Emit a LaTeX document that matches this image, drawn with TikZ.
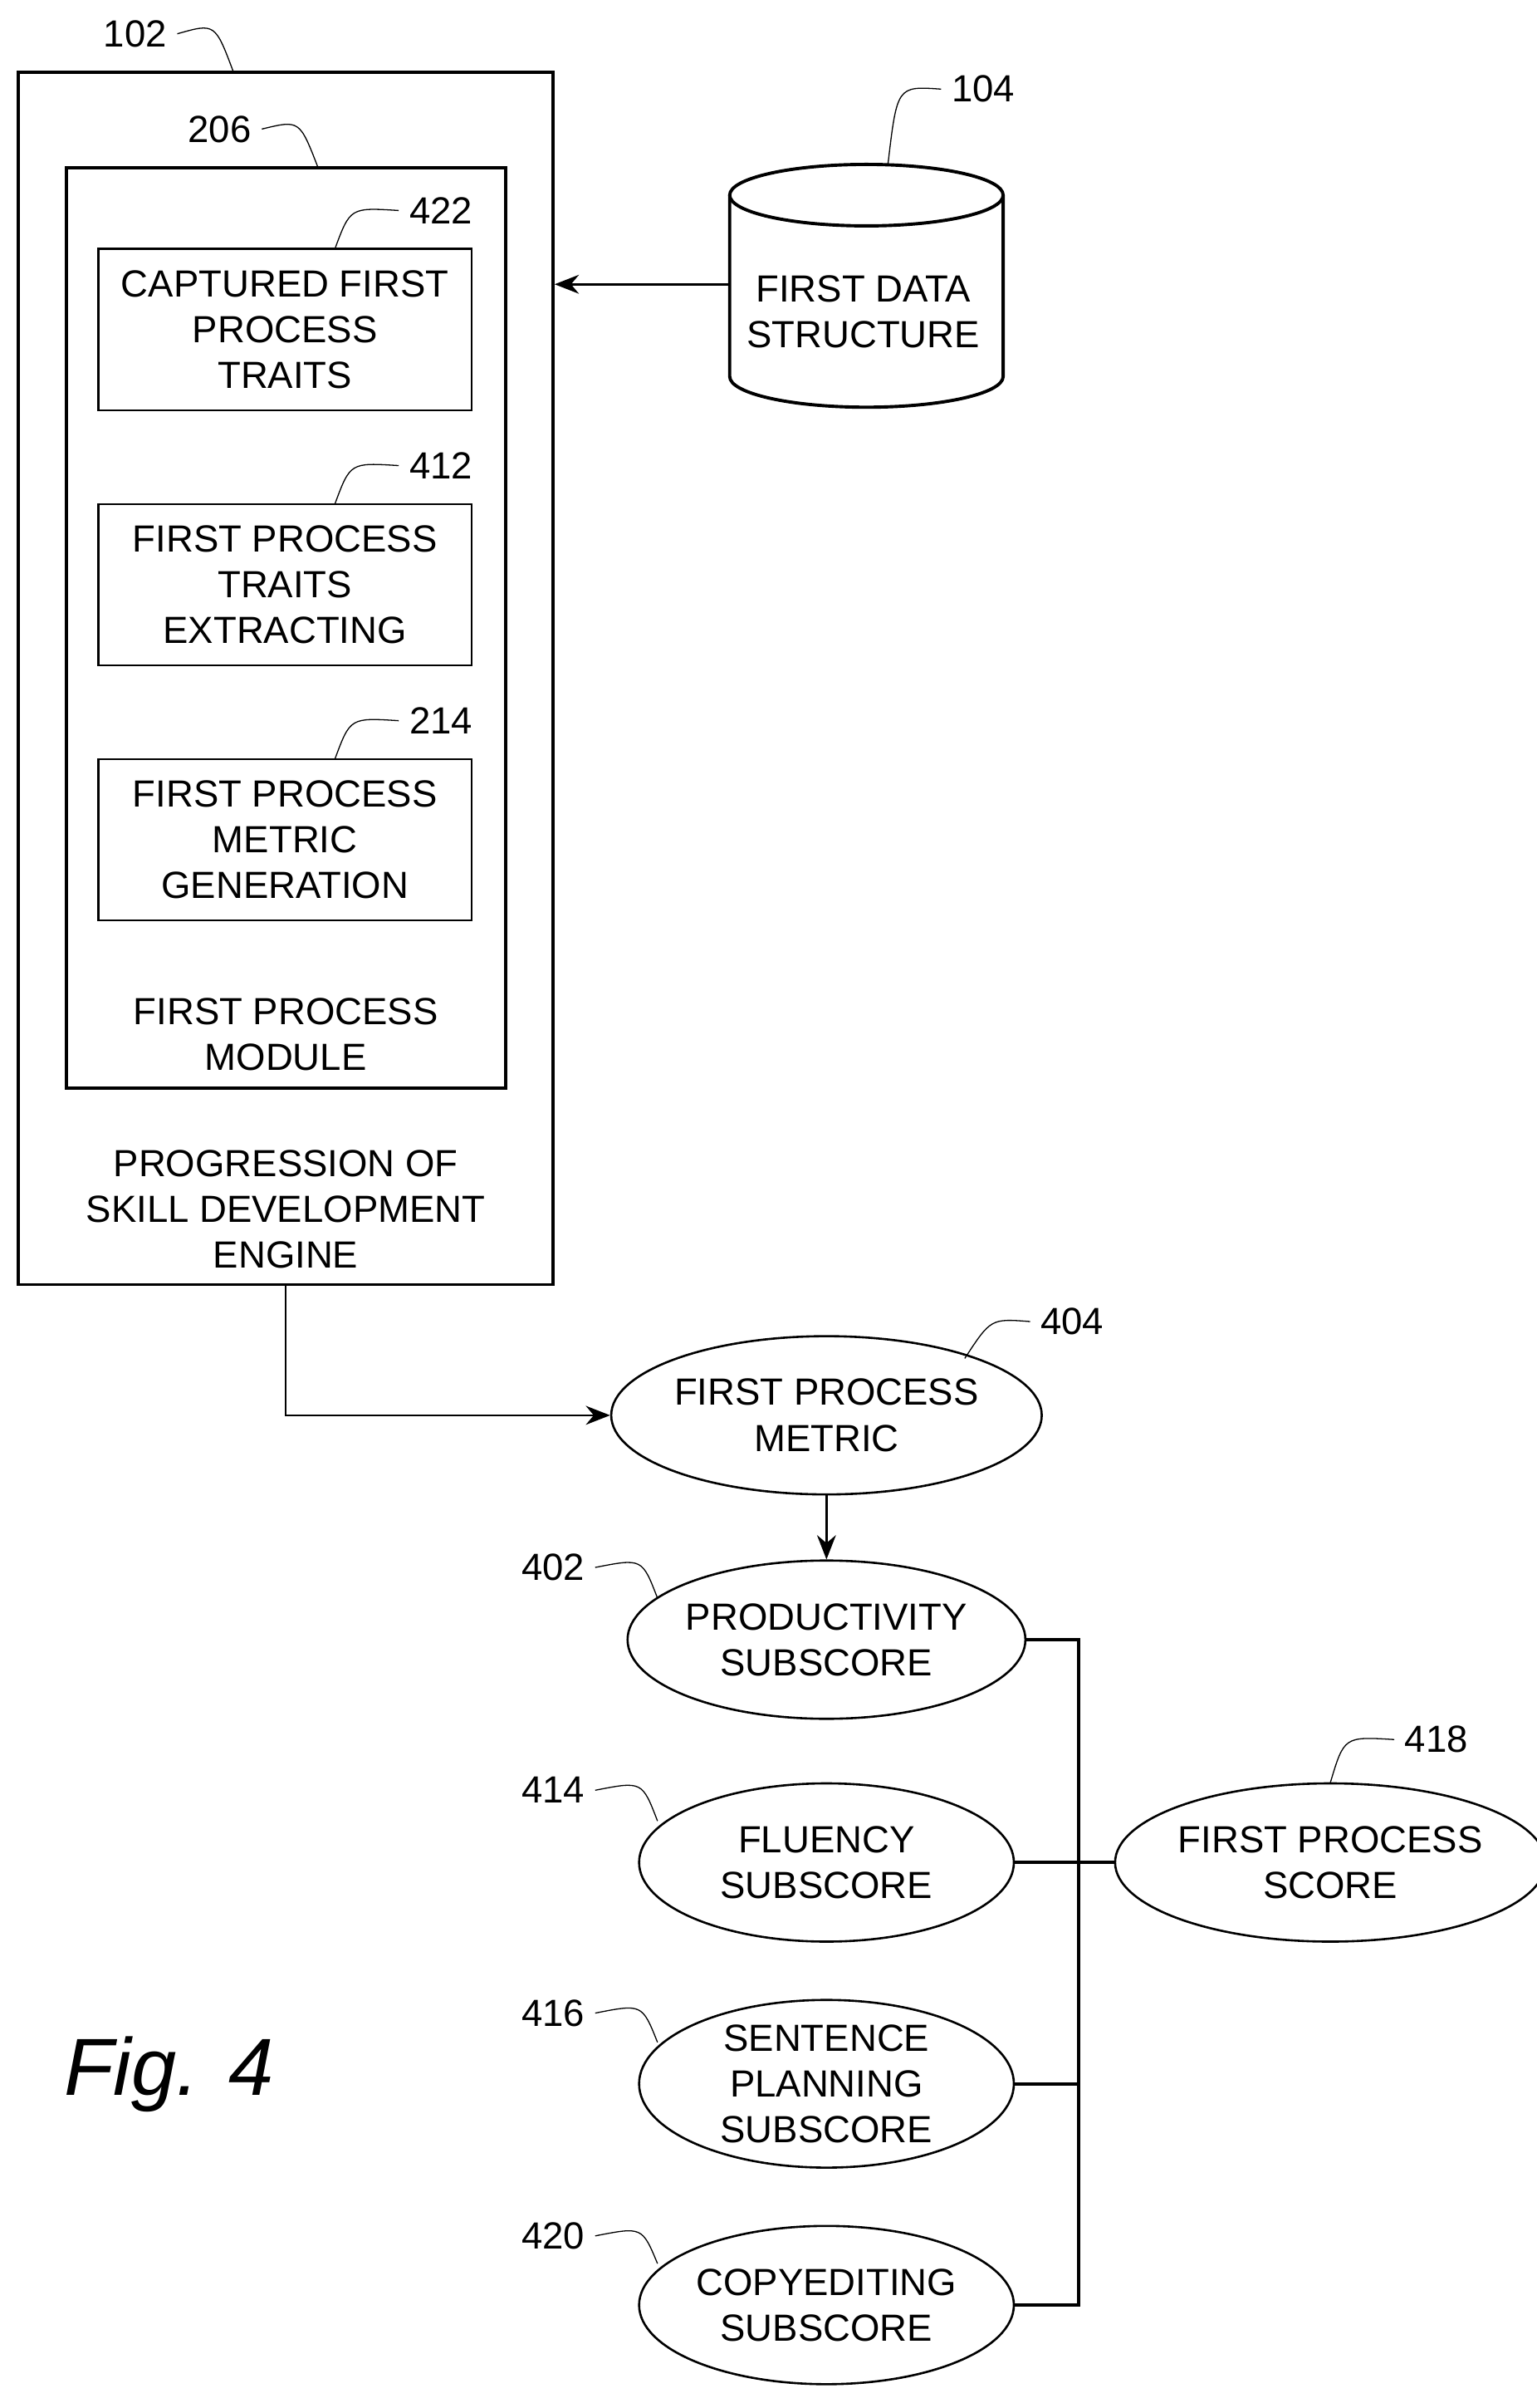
\documentclass[tikz,border=0pt]{standalone}
\usepackage{fontspec}
\setmainfont{Liberation Sans}
\usetikzlibrary{shapes.geometric,arrows.meta}
\tikzset{
	box/.style = {draw, thick, minimum width = 4.86cm, minimum height = 2.1cm, align = center, inner sep = 0pt},
	oval/.style = {draw, thick, ellipse, minimum width = 4.88cm, minimum height = 2.06cm, align = center, inner sep = 0pt},
	lbl/.style = {font = \fontsize{14}{17}\selectfont},
	lead/.style = {thin},
	arr/.style = {thick, -{Stealth[length=9pt, width=7pt]}}
}
\begin{document}
\begin{tikzpicture}[x = 0.02cm, y = -0.02cm, font = \fontsize{14}{17}\selectfont, line width = 1.2pt]
	\useasboundingbox (0, 0) rectangle (1000, 1567);
	% engine and module frames
	\node[draw, minimum width = 6.96cm, minimum height = 15.78cm, inner sep = 0pt] (engine) at (186, 441.5) {};
	\node[draw, minimum width = 5.72cm, minimum height = 11.98cm, inner sep = 0pt] (module) at (186, 408.5) {};
	\node[box] (captured) at (185.5, 214.5) {CAPTURED FIRST\\PROCESS\\TRAITS};
	\node[box] (extract) at (185.5, 380.5) {FIRST PROCESS\\TRAITS\\EXTRACTING};
	\node[box] (metricgen) at (185.5, 546.5) {FIRST PROCESS\\METRIC\\GENERATION};
	\node[align = center] (modtext) at (186, 673) {FIRST PROCESS\\MODULE};
	\node[align = center] (engtext) at (186, 787) {PROGRESSION OF\\SKILL DEVELOPMENT\\ENGINE};
	% data structure
	\draw (475, 127) -- (475, 245) arc[start angle = 180, end angle = 0, x radius = 89, y radius = 20] -- (653, 127);
	\draw (564, 127) ellipse[x radius = 89, y radius = 20];
	\node[align = center] (data) at (562, 203) {FIRST DATA\\STRUCTURE};
	\coordinate (dataL) at (475, 185);
	\draw[arr] (dataL) -- (engine.east |- dataL);
	% scores
	\node[oval] (metric) at (538, 921) {FIRST PROCESS\\METRIC};
	\node[oval] (prod) at (538, 1067) {PRODUCTIVITY\\SUBSCORE};
	\node[oval] (flu) at (538, 1212) {FLUENCY\\SUBSCORE};
	\node[oval] (sent) at (538, 1356) {SENTENCE\\PLANNING\\SUBSCORE};
	\node[oval] (copy) at (538, 1500) {COPYEDITING\\SUBSCORE};
	\node[oval] (score) at (866, 1212) {FIRST PROCESS\\SCORE};
	\draw[arr] (engine.south) |- (metric.west);
	\draw[arr] (metric.south) -- (prod.north);
	\coordinate (bus) at (702, 1067);
	\draw (prod.east) -- (bus) -- (bus |- copy.east) -- (copy.east);
	\draw (flu.east) -- (score.west);
	\draw (sent.east) -- (bus |- sent.east);
	% reference numerals
	\node[lbl] (n102) at (88, 22) {102};
	\draw[lead] (n102.east) .. controls (140, 15) .. (152, 47);
	\node[lbl] (n206) at (143, 84) {206};
	\draw[lead] (n206.east) .. controls (195, 78) .. (207, 109);
	\node[lbl] (n422) at (287, 137) {422};
	\draw[lead] (n422.west) .. controls (228, 135) .. (218, 162);
	\node[lbl] (n412) at (287, 303) {412};
	\draw[lead] (n412.west) .. controls (228, 301) .. (218, 328);
	\node[lbl] (n214) at (287, 469) {214};
	\draw[lead] (n214.west) .. controls (228, 467) .. (218, 494);
	\node[lbl] (n104) at (640, 58) {104};
	\draw[lead] (n104.west) .. controls (584, 56) .. (578, 107);
	\node[lbl] (n404) at (698, 860) {404};
	\draw[lead] (n404.west) .. controls (645, 858) .. (628, 884);
	\node[lbl] (n402) at (360, 1020) {402};
	\draw[lead] (n402.east) .. controls (418, 1014) .. (428, 1040);
	\node[lbl] (n414) at (360, 1165) {414};
	\draw[lead] (n414.east) .. controls (418, 1159) .. (428, 1185);
	\node[lbl] (n416) at (360, 1310) {416};
	\draw[lead] (n416.east) .. controls (418, 1304) .. (428, 1329);
	\node[lbl] (n420) at (360, 1455) {420};
	\draw[lead] (n420.east) .. controls (418, 1449) .. (428, 1473);
	\node[lbl] (n418) at (935, 1132) {418};
	\draw[lead] (n418.west) .. controls (875, 1130) .. (866, 1160);
	\node[font = \itshape\fontsize{30}{30}\selectfont] (fig) at (110, 1350) {Fig. 4};
\end{tikzpicture}
\end{document}
